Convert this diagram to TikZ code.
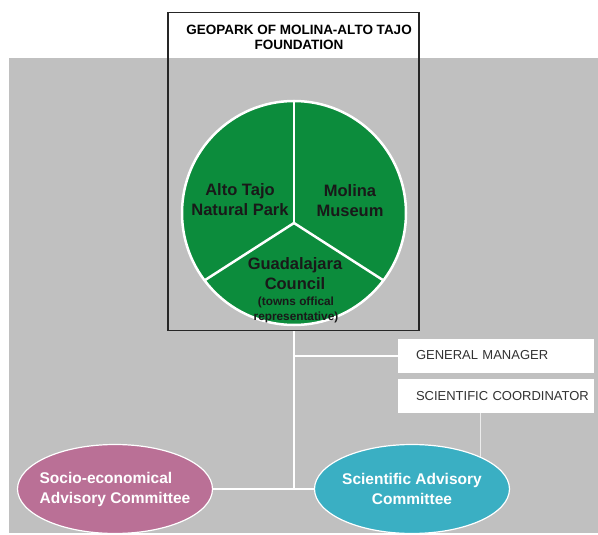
\documentclass[tikz,border=0pt]{standalone}
\usepackage{fontspec}
\setmainfont{Liberation Sans}
\usetikzlibrary{shapes.geometric,calc}
\definecolor{bggray}{RGB}{192,192,192}
\definecolor{piegreen}{RGB}{12,140,60}
\definecolor{socmauve}{RGB}{186,112,150}
\definecolor{sciteal}{RGB}{58,175,195}
\definecolor{officetext}{RGB}{50,50,50}

\begin{document}
\begin{tikzpicture}[x=1pt, y=-1pt,
    link/.style={white, line width=2pt},
    office/.style={fill=white, minimum width=196, minimum height=34, inner xsep=18, inner ysep=0,
        text width=160, align=left, text=officetext, font=\fontsize{13}{15}\selectfont},
    committee/.style={ellipse, draw=white, line width=1.2pt, minimum width=195, minimum height=89,
        inner xsep=-8, inner ysep=0, text=white, font=\bfseries\fontsize{15.5}{20}\selectfont},
    slice/.style={text=black!90, align=center, font=\bfseries\fontsize{16.5}{20}\selectfont}]
        \useasboundingbox (0,0) rectangle (598,535);
        \fill[bggray] (9,58) rectangle (598,533);

        %Foundation frame and its title
        \node[draw=black!85, line width=1.5pt, minimum width=251, minimum height=318, inner sep=0] (fnd) at (293.5,171.5) {};
        \node[align=center, font=\bfseries\fontsize{13.5}{14.3}\selectfont] (title) at (299,37.5) {GEOPARK OF MOLINA-ALTO TAJO\\FOUNDATION};

        %Three partners in the pie
        \coordinate (pc) at (294,213);
        \coordinate (core) at (294,223);
        \fill[piegreen] (pc) circle (112);
        \draw[white, line width=2.5pt] (pc) circle (112);
        \foreach \a in {-90,143,37} {
            \draw[white, line width=2.5pt] (core) -- ($(pc)+(\a:112)$);
        }
        \node[slice] (altotajo) at (240,200) {Alto Tajo\\Natural Park};
        \node[slice] (molina) at (350,201) {Molina\\Museum};
        \node[slice] (guada) at (295,274) {Guadalajara\\Council};
        \node[slice, font=\bfseries\fontsize{11.8}{15.5}\selectfont] (towns) at (296,310) {(towns offical\\representative)};

        %Offices and committees
        \node[office] (gm) at (496,355.5) {GENERAL MANAGER};
        \node[office] (sc) at (496,396) {\mbox{SCIENTIFIC COORDINATOR}};
        \node[committee, fill=socmauve, align=left] (socio) at (115,489) {Socio-economical\\Advisory Committee};
        \node[committee, fill=sciteal, align=center] (sci) at (412,489) {Scientific Advisory\\Committee};

        %Connectors
        \coordinate (hub) at (fnd.south |- socio.east);
        \draw[link] (fnd.south) -- (hub);
        \draw[link] (socio.east) -- (sci.west);
        \draw[link] (fnd.south |- gm.west) -- (gm.west);
        \draw[white!85!gray, line width=1pt] (sc.south -| sci.25) -- (sci.25);
    \end{tikzpicture}
\end{document}
